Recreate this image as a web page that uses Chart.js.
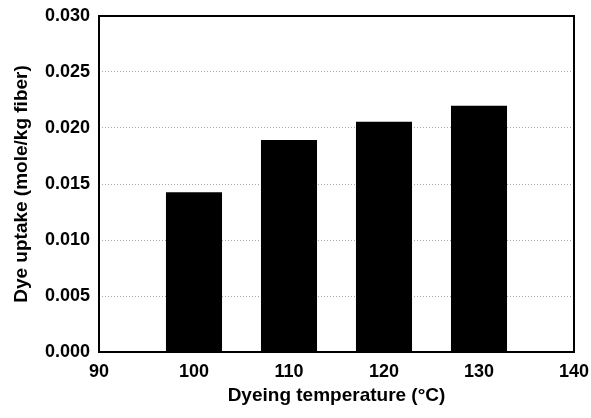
<!DOCTYPE html>
<html>
<head>
<meta charset="utf-8">
<script src="https://cdn.jsdelivr.net/npm/chart.js@4"></script>
<style>
  html, body { margin: 0; padding: 0; background: #fff; }
  #wrap { width: 591px; height: 418px; }
</style>
</head>
<body>
<div id="wrap"><canvas id="dyeCanvas"></canvas></div>
<script>
//Data
let temps = [100, 110, 120, 130];
let uptake = [0.01426, 0.01893, 0.02056, 0.02199];

//Axes
let xMin = 90, xMax = 140, xStep = 10;
let yMin = 0, yMax = 0.03, yStep = 0.005;

let fontFam = "'Liberation Sans', Arial, sans-serif";

//frame round the plot area
let framePlugin = {
    id: 'frame',
    afterDatasetsDraw(chart) {
        let a = chart.chartArea;
        let ctx = chart.ctx;
        ctx.save();
        ctx.setLineDash([]);
        ctx.lineWidth = 2;
        ctx.strokeStyle = '#000';
        ctx.strokeRect(a.left, a.top, a.right - a.left, a.bottom - a.top);
        ctx.restore();
    }
};

let points = temps.map((t, i) => ({x: t, y: uptake[i]}));

let dyeChart = new Chart(document.getElementById('dyeCanvas').getContext('2d'), {
    type: 'bar',
    data: {
        datasets: [{
            label: 'Dye uptake',
            data: points,
            backgroundColor: '#000',
            borderWidth: 0,
            categoryPercentage: 1,
            barPercentage: 0.59
        }]
    },
    options: {
        responsive: true,
        maintainAspectRatio: false,
        animation: false,
        layout: { padding: { top: 16, right: 17, left: 0, bottom: 0 } },
        plugins: {
            legend: { display: false },
            tooltip: { enabled: false }
        },
        scales: {
            x: {
                type: 'linear',
                min: xMin,
                max: xMax,
                offset: false,
                afterFit: (s) => {
                    s.height = 66;
                    s.paddingLeft = 0;
                    s.paddingRight = 0;
                },
                grid: { display: false, drawTicks: false },
                border: { display: false },
                ticks: {
                    stepSize: xStep,
                    padding: 9,
                    color: '#000',
                    font: { family: fontFam, size: 18, weight: 'bold' }
                },
                title: {
                    display: true,
                    text: 'Dyeing temperature (°C)',
                    color: '#000',
                    padding: { top: 0, bottom: 11 },
                    font: { family: fontFam, size: 19, weight: 'bold' }
                }
            },
            y: {
                min: yMin,
                max: yMax,
                afterFit: (s) => {
                    s.width = 99;
                    s.paddingTop = 0;
                    s.paddingBottom = 0;
                },
                grid: { color: '#a8a8a8', lineWidth: 1, drawTicks: false },
                border: { display: false, dash: [1, 2] },
                ticks: {
                    stepSize: yStep,
                    padding: 9,
                    color: '#000',
                    font: { family: fontFam, size: 18, weight: 'bold' },
                    callback: (v) => v.toFixed(3)
                },
                title: {
                    display: true,
                    text: 'Dye uptake (mole/kg fiber)',
                    color: '#000',
                    padding: { top: 10, bottom: 0 },
                    font: { family: fontFam, size: 19, weight: 'bold' }
                }
            }
        }
    },
    plugins: [framePlugin]
});
</script>
</body>
</html>
